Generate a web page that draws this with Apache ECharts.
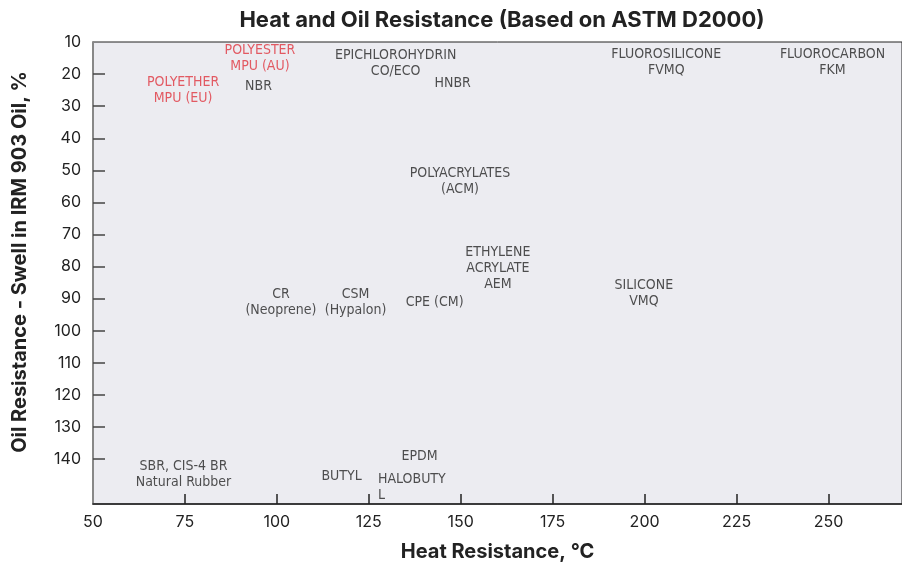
<!DOCTYPE html>
<html>
<head>
<meta charset="utf-8">
<script src="https://cdn.jsdelivr.net/npm/echarts@6/dist/echarts.min.js"></script>
<style>
  html, body { margin: 0; padding: 0; background: #fff; }
  #chart { width: 902px; height: 567px; }
</style>
</head>
<body>
<div id="chart"></div>
<script>
// elastomer names, heat resistance (°C) and oil swell (%)
const materials = [
  'POLYETHER\nMPU (EU)', 'POLYESTER\nMPU (AU)', 'NBR', 'EPICHLOROHYDRIN\nCO/ECO', 'HNBR',
  'FLUOROSILICONE\nFVMQ', 'FLUOROCARBON\nFKM', 'POLYACRYLATES\n(ACM)', 'ETHYLENE\nACRYLATE\nAEM',
  'CR\n(Neoprene)', 'CSM\n(Hypalon)', 'CPE (CM)', 'SILICONE\nVMQ',
  'SBR, CIS-4 BR\nNatural Rubber', 'BUTYL', 'EPDM', 'HALOBUTY\nL'
];
const heatResistance = [74.5, 95.4, 95, 132.3, 147.8, 205.9, 251.1, 149.8, 160.1, 101.1, 121.4, 142.9, 199.8, 74.6, 117.6, 138.8, 127.5];
const oilSwell = [25.1, 15.2, 23.7, 16.6, 22.9, 16.4, 16.4, 53.4, 80.7, 91.2, 91.2, 91.2, 88.2, 144.9, 145.5, 139.0, 148.7];
// polyurethanes are highlighted in red
const polyurethanes = ['POLYETHER\nMPU (EU)', 'POLYESTER\nMPU (AU)'];
const xTicks = [75, 100, 125, 150, 175, 200, 225, 250];
const xLabels = [50, 75, 100, 125, 150, 175, 200, 225, 250];
const yTicks = [20, 30, 40, 50, 60, 70, 80, 90, 100, 110, 120, 130, 140];
const yLabels = [10, 20, 30, 40, 50, 60, 70, 80, 90, 100, 110, 120, 130, 140];

const chart = echarts.init(document.getElementById('chart'));

const points = materials.map(function (name, i) {
  const item = {
    name: name,
    value: [heatResistance[i], oilSwell[i]],
    label: {}
  };
  if (polyurethanes.indexOf(name) >= 0) item.label.color = '#e0353f';
  // the halobutyl label wraps and hangs to the right of its point
  if (name.indexOf('HALOBUTY') === 0) item.label.align = 'left';
  return item;
});

chart.setOption({
  animation: false,
  title: {
    text: 'Heat and Oil Resistance (Based on ASTM D2000)',
    left: 497,
    top: 4,
    textAlign: 'center',
    textStyle: {
      fontFamily: 'Inter',
      fontWeight: 'bold',
      fontSize: 22,
      color: '#222'
    }
  },
  grid: {
    left: 93,
    right: -2,
    top: 42,
    bottom: 63,
    show: true,
    backgroundColor: '#ececf1',
    borderColor: '#222',
    borderWidth: 1
  },
  xAxis: {
    type: 'value',
    min: 50,
    max: 270,
    interval: 25,
    name: 'Heat Resistance, °C',
    nameLocation: 'middle',
    nameGap: 38,
    nameTextStyle: { fontFamily: 'Inter', fontWeight: 'bold', fontSize: 20, color: '#222' },
    axisLine: { lineStyle: { color: '#222', width: 1.5 } },
    axisTick: { inside: true, length: 10, customValues: xTicks, lineStyle: { color: '#222', width: 1.5 } },
    axisLabel: { customValues: xLabels, margin: 10, fontFamily: 'Inter', fontSize: 16, color: '#222' },
    splitLine: { show: false }
  },
  yAxis: {
    type: 'value',
    inverse: true,
    min: 10,
    max: 154,
    interval: 10,
    name: 'Oil Resistance - Swell in IRM 903 Oil, %',
    nameLocation: 'middle',
    nameGap: 63,
    nameRotate: 90,
    nameTextStyle: { fontFamily: 'Inter', fontWeight: 'bold', fontSize: 20, color: '#222', padding: [0, 0, 0, 22] },
    axisLine: { lineStyle: { color: '#888', width: 2 } },
    axisTick: { inside: true, length: 12, customValues: yTicks, lineStyle: { color: '#444', width: 1.5 } },
    axisLabel: { customValues: yLabels, margin: 12, fontFamily: 'Inter', fontSize: 16, color: '#222' },
    splitLine: { show: false }
  },
  series: [{
    type: 'scatter',
    symbolSize: 0,
    data: points,
    label: {
      show: true,
      position: 'inside',
      formatter: '{b}',
      fontFamily: '"Liberation Sans Narrow", "DejaVu Sans Condensed", Roboto, sans-serif',
      fontSize: 14,
      lineHeight: 16,
      color: '#262626'
    },
    emphasis: { disabled: true }
  }]
});
</script>
</body>
</html>
